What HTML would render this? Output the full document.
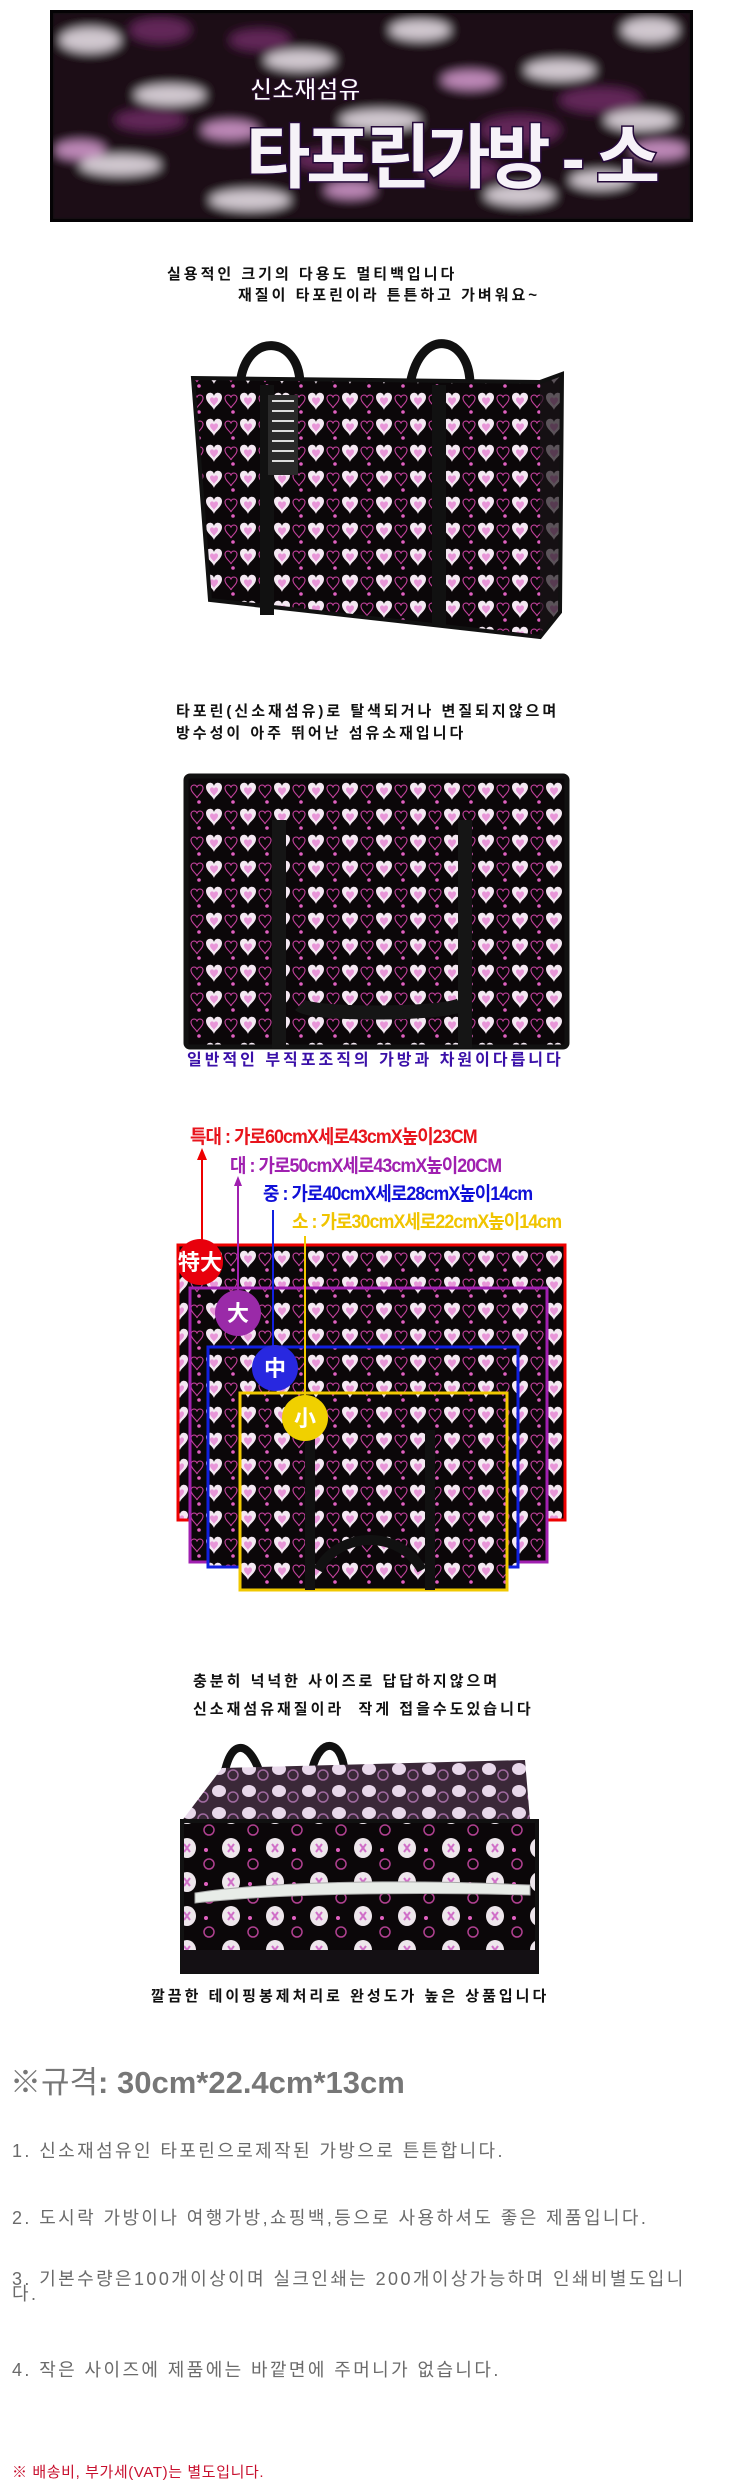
<!DOCTYPE html>
<html><head><meta charset="utf-8"><style>
html,body{margin:0;padding:0;background:#fff}
body{width:745px;height:2488px;position:relative;overflow:hidden;font-family:"Liberation Sans","Noto Sans CJK KR","NanumGothic",sans-serif}
.t{position:absolute;white-space:nowrap;font-weight:bold;font-size:15px;letter-spacing:3px;color:#111;line-height:18px}
.g{position:absolute;white-space:nowrap;color:#6a6a6a;font-size:18px;letter-spacing:2.4px;left:12px}
.lab{position:absolute;white-space:nowrap;font-weight:bold;font-size:19px;line-height:22px;letter-spacing:-1px;transform:scaleX(0.94);transform-origin:left center}
</style></head><body>
<svg width="745" height="2488" style="position:absolute;left:0;top:0">
<defs>
<path id="h" d="M0,3 C0,-2 7,-3 8,2 C9,-3 16,-2 16,3 C16,9 9,12 8,16 C7,12 0,9 0,3Z"/>
<pattern id="pat" width="34" height="26" patternUnits="userSpaceOnUse">
<rect width="34" height="26" fill="#0b0709"/>
<use href="#h" x="2" y="4" fill="#f4e8f2"/>
<use href="#h" x="6" y="8" transform="scale(0.5) translate(6,8)" fill="#e896d8"/>
<use href="#h" x="20" y="6" fill="none" stroke="#c0409a" stroke-width="1.5" transform="scale(0.75) translate(8,2)"/>
<circle cx="29" cy="22" r="1.8" fill="#e060c0"/>
</pattern>
<pattern id="pat2" width="44" height="34" patternUnits="userSpaceOnUse">
<rect width="44" height="34" fill="#0b0709"/>
<ellipse cx="11" cy="12" rx="9" ry="10" fill="#eee6ec"/>
<path d="M8,8 L14,16 M14,8 L8,16" stroke="#d070c8" stroke-width="2"/>
<circle cx="30" cy="14" r="2" fill="#e060c0"/>
<circle cx="33" cy="28" r="5" fill="none" stroke="#b04090" stroke-width="1.5"/>
</pattern>
<pattern id="pat3" width="30" height="22" patternUnits="userSpaceOnUse">
<rect width="30" height="22" fill="#3a2838"/>
<ellipse cx="9" cy="9" rx="7" ry="6" fill="#e8d8ea"/>
<circle cx="23" cy="15" r="5" fill="none" stroke="#a06aa0" stroke-width="1.5"/>
</pattern>
<filter id="bl"><feGaussianBlur stdDeviation="5"/></filter>
<clipPath id="bc"><rect x="52" y="12" width="639" height="208"/></clipPath>
</defs>
<rect x="50" y="10" width="643" height="212" fill="#0a0608"/>
<g clip-path="url(#bc)" filter="url(#bl)">
<rect x="50" y="10" width="643" height="212" fill="#1a0c18"/>
<g fill="#f0e8f0" opacity="0.85">
<ellipse cx="90" cy="40" rx="30" ry="12"/><ellipse cx="170" cy="95" rx="35" ry="10"/><ellipse cx="120" cy="165" rx="40" ry="10"/>
<ellipse cx="300" cy="60" rx="35" ry="10"/><ellipse cx="380" cy="120" rx="40" ry="10"/><ellipse cx="420" cy="30" rx="30" ry="10"/>
<ellipse cx="560" cy="70" rx="35" ry="10"/><ellipse cx="650" cy="30" rx="28" ry="12"/><ellipse cx="640" cy="120" rx="35" ry="10"/>
<ellipse cx="250" cy="200" rx="40" ry="10"/><ellipse cx="520" cy="195" rx="35" ry="10"/><ellipse cx="600" cy="180" rx="30" ry="9"/>
</g>
<g fill="#e8a8e0" opacity="0.8">
<ellipse cx="80" cy="150" rx="25" ry="9"/><ellipse cx="230" cy="130" rx="28" ry="9"/><ellipse cx="470" cy="80" rx="28" ry="9"/><ellipse cx="660" cy="150" rx="28" ry="9"/><ellipse cx="350" cy="190" rx="25" ry="8"/>
</g>
<g fill="#6a2a60" opacity="0.9">
<ellipse cx="160" cy="30" rx="30" ry="12"/><ellipse cx="520" cy="130" rx="40" ry="14"/><ellipse cx="460" cy="170" rx="40" ry="12"/><ellipse cx="260" cy="40" rx="30" ry="10"/><ellipse cx="600" cy="100" rx="40" ry="12"/><ellipse cx="150" cy="120" rx="35" ry="10"/><ellipse cx="330" cy="160" rx="35" ry="10"/>
</g>
</g>
<rect x="51.5" y="11.5" width="640" height="209" fill="none" stroke="#050305" stroke-width="3"/>
<text x="250" y="98" font-family="Liberation Sans,Noto Sans CJK KR,sans-serif" font-size="24" font-weight="bold" fill="#fff" stroke="#2a0e30" stroke-width="1">신소재섬유</text>
<text x="246" y="182" font-family="Liberation Sans,Noto Sans CJK KR,sans-serif" font-size="70" font-weight="bold" fill="#f6f2f8" stroke="#250a3a" stroke-width="3" paint-order="stroke" textLength="414">타포린가방 - 소</text>

<path d="M240,385 C245,330 300,335 300,385" fill="none" stroke="#111" stroke-width="9"/>
<path d="M410,385 C420,325 470,335 470,385" fill="none" stroke="#111" stroke-width="9"/>
<polygon points="193,378 540,382 562,374 560,612 540,637 210,600" fill="url(#pat)"/>
<polygon points="540,382 562,374 560,612 540,637" fill="#1a1418" opacity="0.7"/>
<polygon points="193,378 540,382 562,374 560,612 540,637 210,600" fill="none" stroke="#111" stroke-width="4"/>
<rect x="260" y="385" width="14" height="230" fill="#111"/>
<rect x="432" y="385" width="14" height="240" fill="#111"/>
<rect x="268" y="395" width="30" height="80" fill="#2a2a2a"/>
<g fill="#ddd"><rect x="272" y="400" width="22" height="2"/><rect x="272" y="410" width="22" height="2"/><rect x="272" y="420" width="22" height="2"/><rect x="272" y="430" width="22" height="2"/><rect x="272" y="440" width="22" height="2"/><rect x="272" y="450" width="22" height="2"/><rect x="272" y="460" width="22" height="2"/></g>

<rect x="185" y="775" width="383" height="273" rx="4" fill="url(#pat)"/>
<rect x="186" y="776" width="381" height="271" rx="4" fill="none" stroke="#111" stroke-width="5"/>
<path d="M279,820 L279,1048 M300,1005 C310,1015 440,1015 460,1005" fill="none" stroke="#151515" stroke-width="14"/>
<path d="M465,820 L465,1048" stroke="#151515" stroke-width="14"/>

<rect x="178" y="1245" width="387" height="275" fill="url(#pat)" stroke="#e00" stroke-width="3"/>
<rect x="190" y="1288" width="357" height="274" fill="url(#pat)" stroke="#a020b0" stroke-width="3"/>
<rect x="208" y="1347" width="310" height="220" fill="url(#pat)" stroke="#1020e0" stroke-width="3"/>
<rect x="240" y="1393" width="267" height="197" fill="url(#pat)" stroke="#f0c800" stroke-width="3"/>
<path d="M310,1430 L310,1590 M430,1430 L430,1590 M318,1570 C340,1530 400,1530 422,1570" fill="none" stroke="#111" stroke-width="10"/>
<line x1="202" y1="1156" x2="202" y2="1245" stroke="#e00" stroke-width="2"/>
<polygon points="197,1160 207,1160 202,1148" fill="#e00"/>
<line x1="238" y1="1182" x2="238" y2="1290" stroke="#a020b0" stroke-width="2"/>
<polygon points="234,1186 242,1186 238,1176" fill="#a020b0"/>
<line x1="273" y1="1210" x2="273" y2="1347" stroke="#1020e0" stroke-width="2"/>
<line x1="305" y1="1236" x2="305" y2="1395" stroke="#f0c800" stroke-width="2"/>
<circle cx="200" cy="1262" r="23" fill="#e8000c"/>
<circle cx="238" cy="1313" r="23" fill="#9a2aa8"/>
<circle cx="275" cy="1368" r="23" fill="#2828e0"/>
<circle cx="305" cy="1418" r="23" fill="#f0d000"/>
<g font-family="Liberation Sans,Noto Sans CJK KR,sans-serif" font-size="22" font-weight="bold" fill="#fff" text-anchor="middle">
<text x="200" y="1270">特大</text><text x="238" y="1321">大</text><text x="275" y="1376">中</text><text x="305" y="1426">小</text>
</g>

<path d="M222,1795 C225,1735 250,1735 262,1780 M312,1770 C320,1735 345,1738 345,1780" fill="none" stroke="#111" stroke-width="8"/>
<polygon points="222,1768 525,1760 530,1820 181,1822" fill="url(#pat3)"/>
<rect x="181" y="1820" width="357" height="153" fill="url(#pat2)"/>
<rect x="182" y="1821" width="355" height="151" fill="none" stroke="#111" stroke-width="4"/>
<rect x="181" y="1950" width="357" height="23" fill="#141014"/>
<path d="M195,1893 C280,1880 420,1880 530,1885 L530,1895 C420,1892 280,1893 195,1903Z" fill="#e8ece8" stroke="#aaa" stroke-width="1"/>
</svg>

<div class="t" style="left:167px;top:266px">실용적인 크기의 다용도 멀티백입니다</div>
<div class="t" style="left:238px;top:287px">재질이 타포린이라 튼튼하고 가벼워요~</div>
<div class="t" style="left:176px;top:703px">타포린(신소재섬유)로 탈색되거나 변질되지않으며</div>
<div class="t" style="left:176px;top:725px">방수성이 아주 뛰어난 섬유소재입니다</div>
<div class="t" style="left:187px;top:1052px;color:#3a10a8;font-size:16px;letter-spacing:3px">일반적인 부직포조직의 가방과 차원이다릅니다</div>

<div class="lab" style="left:190px;top:1127px;color:#e8141c">특대 : 가로60cmX세로43cmX높이23CM</div>
<div class="lab" style="left:230px;top:1156px;color:#a020b0">대 : 가로50cmX세로43cmX높이20CM</div>
<div class="lab" style="left:263px;top:1184px;color:#1010d8">중 : 가로40cmX세로28cmX높이14cm</div>
<div class="lab" style="left:292px;top:1212px;color:#f0c400">소 : 가로30cmX세로22cmX높이14cm</div>

<div class="t" style="left:193px;top:1673px">충분히 넉넉한 사이즈로 답답하지않으며</div>
<div class="t" style="left:193px;top:1701px">신소재섬유재질이라&nbsp; 작게 접을수도있습니다</div>
<div class="t" style="left:151px;top:1988px">깔끔한 테이핑봉제처리로 완성도가 높은 상품입니다</div>

<div style="position:absolute;left:10px;top:2067px;white-space:nowrap;color:#777;font-size:31px;line-height:32px"><span style="font-weight:normal">※규격</span><b>: 30cm*22.4cm*13cm</b></div>
<div class="g" style="top:2137px">1. 신소재섬유인 타포린으로제작된 가방으로 튼튼합니다.</div>
<div class="g" style="top:2204px">2. 도시락 가방이나 여행가방,쇼핑백,등으로 사용하셔도 좋은 제품입니다.</div>
<div class="g" style="top:2272px;white-space:normal;width:700px;line-height:15px">3. 기본수량은100개이상이며 실크인쇄는 200개이상가능하며 인쇄비별도입니다.</div>
<div class="g" style="top:2356px">4. 작은 사이즈에 제품에는 바깥면에 주머니가 없습니다.</div>
<div style="position:absolute;left:12px;top:2461px;white-space:nowrap;color:#c8102e;font-size:15px;letter-spacing:0.6px">※ 배송비, 부가세(VAT)는 별도입니다.</div>
</body></html>
